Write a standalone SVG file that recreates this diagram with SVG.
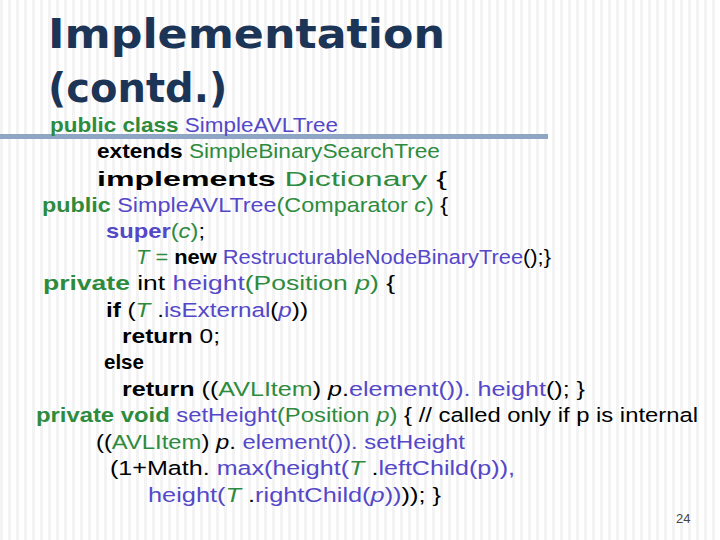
<svg xmlns="http://www.w3.org/2000/svg" width="720" height="540" viewBox="0 0 720 540">
<defs>
<pattern id="st" width="8" height="540" patternUnits="userSpaceOnUse"><rect width="8" height="540" fill="#ffffff"/><rect x="0" width="3" height="540" fill="#f3f3f3"/></pattern>
<style>
text{font-family:"Liberation Sans","DejaVu Sans",sans-serif;font-size:20.5px;fill:#000}
.t{font-family:"DejaVu Sans",sans-serif;font-size:40px;font-weight:bold;fill:#1c3557}
.k{font-weight:bold}
.g{fill:#2e8b3e}
.p{fill:#5548c8}
.i{font-style:italic}
.n{font-size:13px;fill:#444}
</style>
</defs>
<rect width="720" height="540" fill="url(#st)"/>
<rect x="0" y="134" width="548" height="5" fill="#8ea6c4"/>
<g id="title"><text class="t" x="48" y="48" textLength="397" lengthAdjust="spacingAndGlyphs">Implementation</text><text class="t" x="48" y="102">(contd.)</text></g>
<g id="code">
<text x="50" y="132" textLength="288" lengthAdjust="spacingAndGlyphs"><tspan class="k g">public class</tspan> <tspan class="p">SimpleAVLTree</tspan></text>
<text x="97" y="158" textLength="343" lengthAdjust="spacingAndGlyphs"><tspan class="k">extends</tspan> <tspan class="g">SimpleBinarySearchTree</tspan></text>
<text x="97" y="186" textLength="350" lengthAdjust="spacingAndGlyphs"><tspan class="k">implements</tspan> <tspan class="g">Dictionary</tspan>  {</text>
<text x="42" y="212" textLength="406" lengthAdjust="spacingAndGlyphs"><tspan class="k g">public</tspan> <tspan class="p">SimpleAVLTree</tspan><tspan class="g">(Comparator <tspan class="i">c</tspan>)</tspan>  {</text>
<text x="106" y="238" textLength="99" lengthAdjust="spacingAndGlyphs"><tspan class="k p">super</tspan><tspan class="g">(<tspan class="i">c</tspan>)</tspan>;</text>
<text x="136" y="264" textLength="415" lengthAdjust="spacingAndGlyphs"><tspan class="g i">T</tspan><tspan class="g"> = </tspan><tspan class="k">new</tspan> <tspan class="p">RestructurableNodeBinaryTree</tspan>();}</text>
<text x="43" y="290" textLength="352" lengthAdjust="spacingAndGlyphs"><tspan class="k g">private</tspan> int <tspan class="p">height</tspan><tspan class="g">(Position <tspan class="i">p</tspan>)</tspan>  {</text>
<text x="106" y="317" textLength="202" lengthAdjust="spacingAndGlyphs"><tspan class="k">if</tspan> (<tspan class="g i">T</tspan> .<tspan class="p">isExternal</tspan>(<tspan class="p i">p</tspan>))</text>
<text x="122" y="343" textLength="98" lengthAdjust="spacingAndGlyphs"><tspan class="k">return</tspan> 0;</text>
<text x="104" y="369" class="k">else</text>
<text x="122" y="396" textLength="463" lengthAdjust="spacingAndGlyphs"><tspan class="k">return</tspan> ((<tspan class="g">AVLItem</tspan>) <tspan class="i">p</tspan>.<tspan class="p">element()). height</tspan>();  }</text>
<text x="36" y="422" textLength="662" lengthAdjust="spacingAndGlyphs"><tspan class="k g">private void</tspan> <tspan class="p">setHeight</tspan><tspan class="g">(Position <tspan class="i">p</tspan>)</tspan>  { // called only if p is internal</text>
<text x="96" y="449" textLength="369" lengthAdjust="spacingAndGlyphs">((<tspan class="g">AVLItem</tspan>) <tspan class="i">p</tspan>. <tspan class="p">element()). setHeight</tspan></text>
<text x="110" y="475" textLength="405" lengthAdjust="spacingAndGlyphs">(1+Math. <tspan class="p">max(height(</tspan><tspan class="g i">T</tspan> .<tspan class="p">leftChild(p)),</tspan></text>
<text x="148" y="502" textLength="293" lengthAdjust="spacingAndGlyphs"><tspan class="p">height(</tspan><tspan class="g i">T</tspan> .<tspan class="p">rightChild(<tspan class="i">p</tspan>))</tspan>));  }</text>
</g>
<text class="n" x="676" y="523">24</text>
</svg>
